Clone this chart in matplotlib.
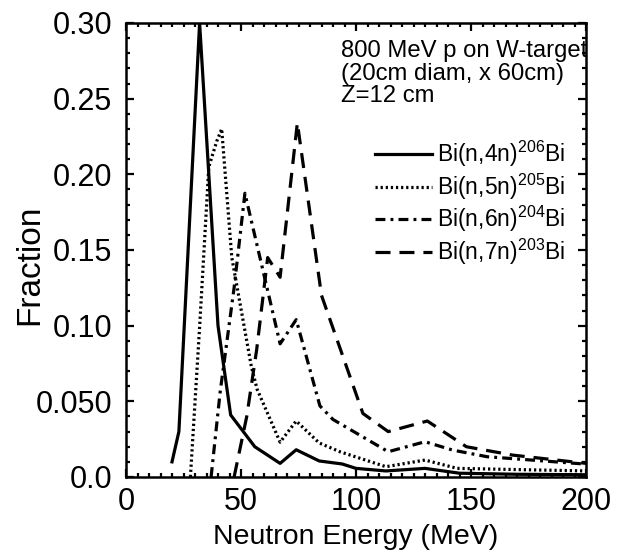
import matplotlib
matplotlib.use('Agg')
import matplotlib.pyplot as plt
from matplotlib.ticker import MultipleLocator, FixedLocator, FixedFormatter

plt.rcParams['font.family'] = ['Liberation Sans', 'DejaVu Sans']
plt.rcParams['mathtext.fontset'] = 'custom'
plt.rcParams['mathtext.rm'] = 'Liberation Sans'
plt.rcParams['mathtext.it'] = 'Liberation Sans:italic'

# ---- data ----
e_4n = [20, 23, 32, 40, 45.5, 56, 67, 74, 84, 94, 100, 113, 130, 145, 170, 200]
f_4n = [0.010, 0.030, 0.300, 0.100, 0.041, 0.020, 0.009, 0.018, 0.0106, 0.0086,
        0.0057, 0.004, 0.0057, 0.0025, 0.0018, 0.0015]

e_5n = [28, 32, 36, 39.5, 41.6, 46, 54.5, 57, 67, 74, 84, 93, 113, 130, 144, 200]
f_5n = [0.0, 0.099, 0.205, 0.222, 0.230, 0.145, 0.073, 0.058, 0.023, 0.037,
        0.0225, 0.0167, 0.0068, 0.0112, 0.0057, 0.0040]

e_6n = [37, 41, 47, 51.7, 67, 74, 84.3, 90, 114, 130, 142, 157, 200]
f_6n = [0.0, 0.057, 0.125, 0.1875, 0.088, 0.104, 0.047, 0.038, 0.0167, 0.0233,
        0.0178, 0.0134, 0.0085]

e_7n = [47, 52.5, 56.8, 61.6, 67, 74.5, 85, 103, 114, 131, 148, 168, 200]
f_7n = [0.0, 0.040, 0.084, 0.145, 0.132, 0.234, 0.120, 0.042, 0.030, 0.037,
        0.020, 0.0145, 0.009]

labels = [r'Bi(n,4n)$^{\mathrm{206}}$Bi', r'Bi(n,5n)$^{\mathrm{205}}$Bi',
          r'Bi(n,6n)$^{\mathrm{204}}$Bi', r'Bi(n,7n)$^{\mathrm{203}}$Bi']

x_ticks = [0, 50, 100, 150, 200]
x_ticklabels = ['0', '50', '100', '150', '200']
y_ticks = [0.0, 0.05, 0.10, 0.15, 0.20, 0.25, 0.30]
y_ticklabels = ['0.0', '0.050', '0.10', '0.15', '0.20', '0.25', '0.30']

annotation = '800 MeV p on W-target\n(20cm diam, x 60cm)\nZ=12 cm'

# ---- figure ----
fig = plt.figure(figsize=(6.18, 5.53), dpi=100)
ax = fig.add_axes([126 / 618, 1 - 477 / 553, 460 / 618, 454 / 553])

lw = 2.3
ax.plot(e_4n, f_4n, color='black', lw=lw, linestyle='-', label=labels[0])
ax.plot(e_5n, f_5n, color='black', lw=lw, linestyle=(0, (0.7, 0.9)), label=labels[1])
ax.plot(e_6n, f_6n, color='black', lw=lw, linestyle=(0, (3.1, 1.6, 0.9, 1.6)), label=labels[2])
ax.plot(e_7n, f_7n, color='black', lw=lw, linestyle=(0, (4.7, 2.8)), label=labels[3])

ax.set_xlim(0, 200)
ax.set_ylim(0, 0.30)

ax.xaxis.set_major_locator(FixedLocator(x_ticks))
ax.xaxis.set_major_formatter(FixedFormatter(x_ticklabels))
ax.xaxis.set_minor_locator(MultipleLocator(5))
ax.yaxis.set_major_locator(FixedLocator(y_ticks))
ax.yaxis.set_major_formatter(FixedFormatter(y_ticklabels))
ax.yaxis.set_minor_locator(MultipleLocator(0.01))

ax.tick_params(which='both', direction='in', top=True, right=True, width=1.6)
ax.tick_params(which='major', length=6, labelsize=22)
ax.tick_params(which='minor', length=3)
ax.tick_params(axis='x', which='major', pad=7)
ax.tick_params(axis='y', which='major', pad=10)
for s in ax.spines.values():
    s.set_linewidth(1.8)

ax.set_xlabel('Neutron Energy (MeV)', fontsize=20.5, labelpad=5)
ax.set_ylabel('Fraction', fontsize=24)
ax.yaxis.set_label_coords(-0.176, 0.467)

ax.text(0.467, 0.962, annotation, transform=ax.transAxes, ha='left', va='top',
        fontsize=17.2, linespacing=1.03)

leg = ax.legend(loc='upper left', bbox_to_anchor=(0.541, 0.744), frameon=False,
                fontsize=16.5, handlelength=2.5, handletextpad=0.2,
                labelspacing=0.1, borderpad=0, borderaxespad=0)

fig.savefig('out.png', dpi=100)
